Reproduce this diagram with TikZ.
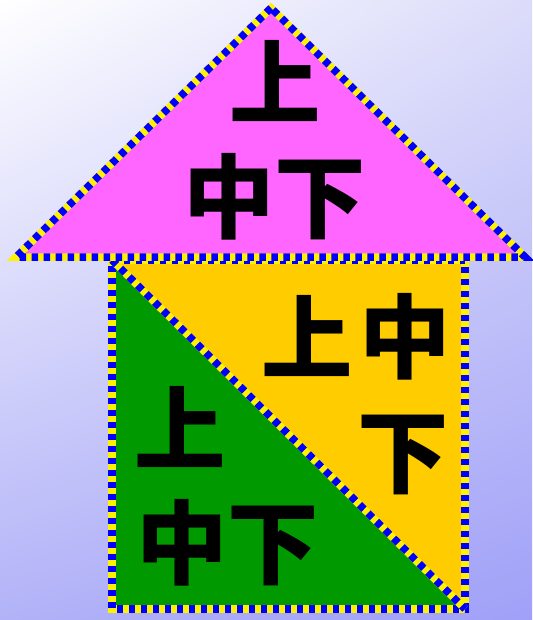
\documentclass[tikz,border=0pt]{standalone}
\usepackage{fontspec}
\newfontfamily\cjkfont{Noto Sans CJK SC}
\usepackage{tikz}
\usetikzlibrary{shadings}

\definecolor{roofpink}{RGB}{255,102,255}
\definecolor{wallyellow}{RGB}{255,204,0}
\definecolor{wallgreen}{RGB}{0,153,0}
\definecolor{skytr}{RGB}{220,220,250}
\definecolor{skybl}{RGB}{178,178,248}
\definecolor{skybr}{RGB}{160,160,248}

\begin{document}
\begin{tikzpicture}[
  x=0.02cm, y=-0.02cm,
  rim/.style={draw=blue, line width=0.15cm, line join=miter, dash pattern=on 0.13cm off 0.11cm,
    preaction={draw=yellow, solid, line width=0.15cm}},
  glyph/.style={inner sep=0pt, font=\cjkfont\bfseries\fontsize{52}{52}\selectfont}
]
\useasboundingbox (0,0) rectangle (532,620);
\shade[upper left=white, upper right=skytr, lower left=skybl, lower right=skybr] (0,0) rectangle (532,620);

% roof
\coordinate (roof-top) at (271,8);
\coordinate (roof-l) at (16,257);
\coordinate (roof-r) at (525,257);
\fill[roofpink] (roof-top) -- (roof-l) -- (roof-r) -- cycle;

% wall
\coordinate (wall-tl) at (112,260);
\coordinate (wall-tr) at (465,260);
\coordinate (wall-bl) at (112,609);
\coordinate (wall-br) at (465,609);
\fill[wallyellow] (wall-tl) -- (wall-tr) -- (wall-br) -- cycle;
\fill[wallgreen] (wall-tl) -- (wall-bl) -- (wall-br) -- cycle;

\draw[rim] (wall-tl) -- (wall-tr) -- (wall-br) -- (wall-bl) -- cycle;
\draw[rim] (wall-tl) -- (wall-br);
\draw[rim] (roof-top) -- (roof-l) -- (roof-r) -- cycle;

% labels
\node[glyph] (roof-up) at (275,81) {上};
\node[glyph] (roof-mid) at (275,197) {中下};
\node[glyph] (yel-up) at (307,336) {上};
\node[glyph] (yel-mid) at (405,337) {中};
\node[glyph] (yel-low) at (403,455) {下};
\node[glyph] (grn-up) at (180,427) {上};
\node[glyph] (grn-mid) at (228,543) {中下};
\end{tikzpicture}
\end{document}
